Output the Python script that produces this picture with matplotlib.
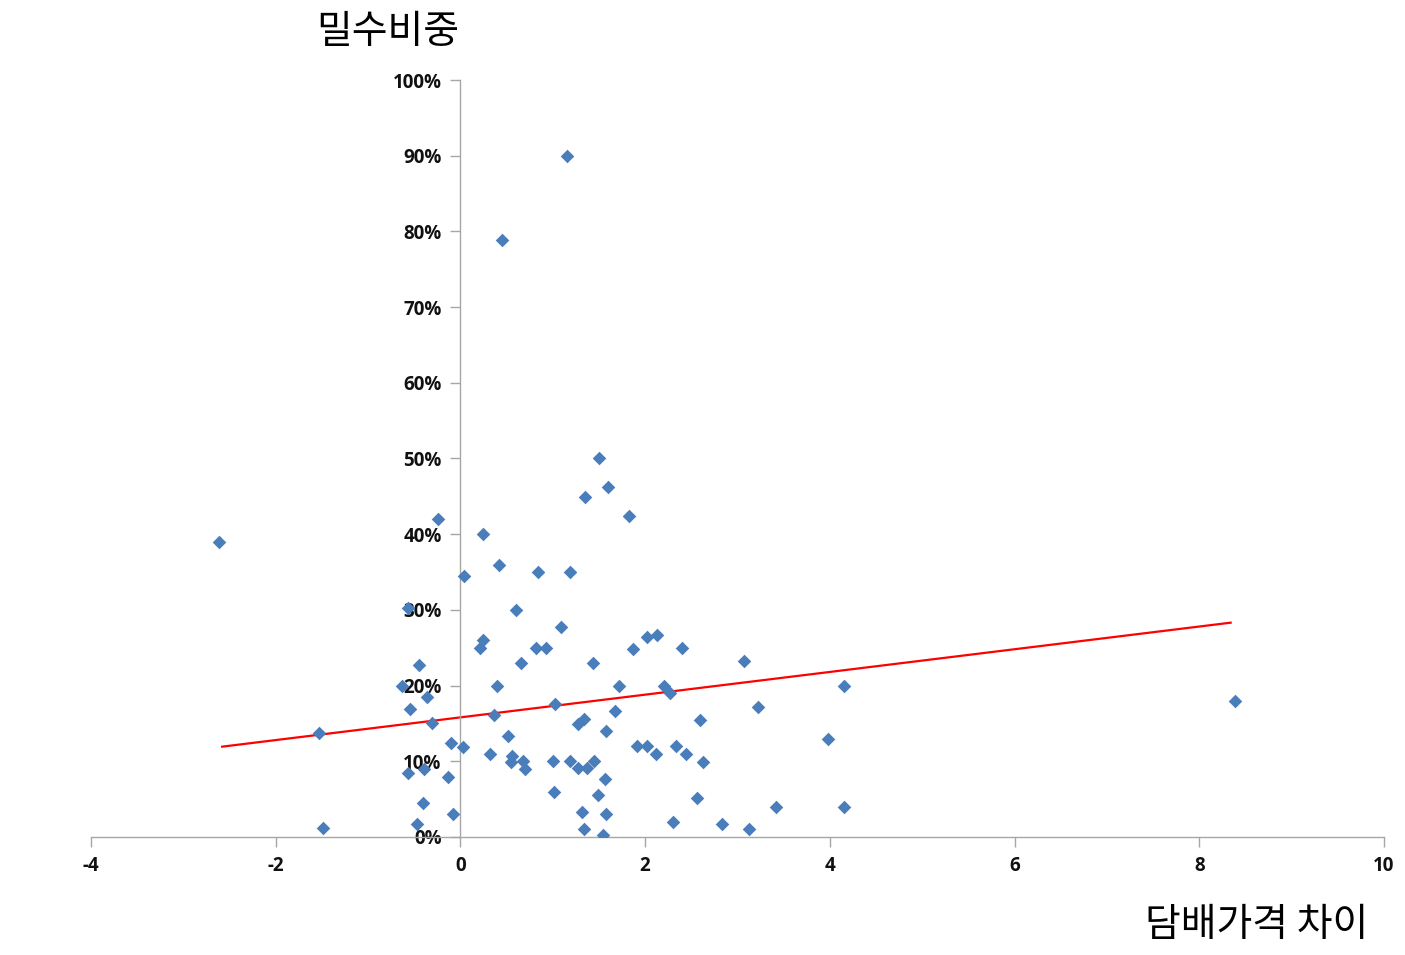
import numpy as np
import matplotlib
matplotlib.use("Agg")
import matplotlib.pyplot as plt
from matplotlib.ticker import PercentFormatter

plt.rcParams['font.family'] = ['Noto Sans CJK KR', 'DejaVu Sans']
plt.rcParams['axes.unicode_minus'] = False

# cigarette price difference (x) vs share of smuggling (y, %)
price_diff = [
    -2.61, -1.53, -1.49, -0.63, -0.57, -0.55, -0.45, -0.36, -0.31, -0.57,
    -0.39, -0.40, -0.47, -0.24, -0.13, -0.10, -0.08, 0.04, 0.03, 0.245,
    0.42, 0.84, 1.19, 1.35, 1.60, 1.50, 1.83, 0.60, 1.09, 0.245,
    0.21, 0.82, 0.93, 0.66, 1.44, 1.87, 2.02, 2.13, 2.40, 3.07,
    0.40, 1.72, 2.20, 2.27, 1.67, 1.02, 0.36, 1.27, 1.34, 1.58,
    2.59, 0.52, 0.32, 0.56, 0.55, 0.68, 0.70, 1.00, 1.19, 1.27,
    1.37, 1.45, 1.91, 2.02, 2.12, 2.33, 2.44, 2.63, 1.01, 1.56,
    1.49, 1.32, 1.58, 1.34, 1.54, 2.30, 2.56, 2.83, 4.15, 3.22,
    3.98, 3.42, 4.15, 3.12, 8.39, 1.15, 0.45,
]
smuggling_share = [
    39.0, 13.7, 1.2, 19.9, 30.2, 16.9, 22.7, 18.5, 15.0, 8.5,
    9.0, 4.5, 1.7, 42.0, 7.9, 12.4, 3.0, 34.5, 11.9, 40.0,
    35.9, 35.0, 35.0, 44.9, 46.3, 50.1, 42.4, 30.0, 27.8, 26.0,
    25.0, 25.0, 25.0, 23.0, 23.0, 24.8, 26.4, 26.7, 25.0, 23.2,
    19.9, 19.9, 19.9, 19.0, 16.6, 17.6, 16.1, 14.9, 15.6, 14.0,
    15.5, 13.3, 11.0, 10.7, 9.9, 10.0, 9.0, 10.0, 10.0, 9.1,
    9.1, 10.0, 12.0, 12.0, 11.0, 12.0, 11.0, 9.9, 5.9, 7.7,
    5.5, 3.3, 3.0, 1.1, 0.3, 2.0, 5.2, 1.7, 19.9, 17.2,
    13.0, 4.0, 4.0, 1.0, 18.0, 90.0, 78.9,
]

# trend line as drawn in the original (slope, intercept, x span)
trend_slope = 1.50
trend_intercept = 15.8
trend_x = [-2.58, 8.34]

x = np.array(price_diff)
y = np.array(smuggling_share)

fig = plt.figure(figsize=(14.05, 9.55), dpi=100)
ax = fig.add_axes([0.0648, 0.1236, 0.9202, 0.7926])

ax.scatter(x, y, marker='D', s=48, color='#4a7ebb', zorder=3, linewidths=0)

xs = np.array(trend_x)
ax.plot(xs, trend_slope * xs + trend_intercept, color='#ff0000', lw=1.6, zorder=2)

ax.set_xlim(-4, 10)
ax.set_ylim(0, 100)
ax.set_xticks(range(-4, 11, 2))
ax.set_yticks(range(0, 101, 10))
ax.yaxis.set_major_formatter(PercentFormatter(decimals=0))

ax.spines['left'].set_position(('data', 0))
ax.spines['bottom'].set_position(('data', 0))
ax.spines['top'].set_visible(False)
ax.spines['right'].set_visible(False)
for s in ('left', 'bottom'):
    ax.spines[s].set_color('#a6a6a6')
    ax.spines[s].set_linewidth(1.0)

ax.tick_params(axis='both', direction='out', length=7, color='#a6a6a6', width=1.0)
ax.tick_params(axis='y', pad=6.5)
ax.tick_params(axis='x', pad=7)
for lbl in ax.get_xticklabels() + ax.get_yticklabels():
    lbl.set_fontfamily('Open Sans')
    lbl.set_fontweight('bold')
    lbl.set_fontsize(13.5)
    lbl.set_color('#111111')

fig.text(0.276, 0.966, '밀수비중', fontsize=28, ha='center', va='center')
fig.text(0.974, 0.031, '담배가격 차이', fontsize=28, ha='right', va='center')

fig.savefig('out.png', dpi=100)
